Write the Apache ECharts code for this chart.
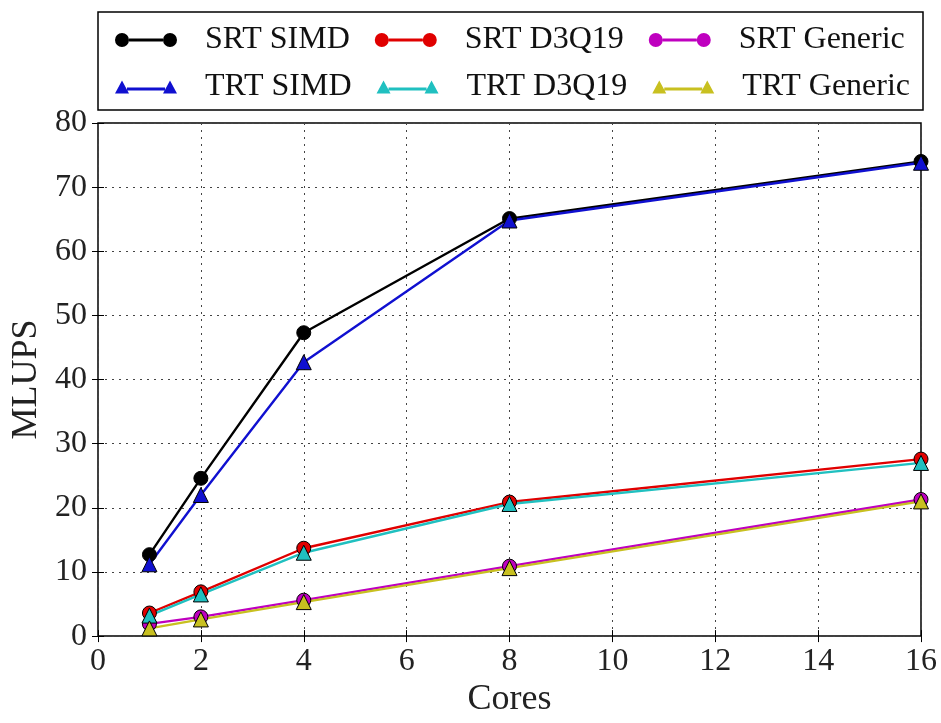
<!DOCTYPE html>
<html>
<head>
  <meta charset="utf-8">
  <title>MLUPS vs Cores</title>
  <script src="https://cdn.jsdelivr.net/npm/echarts@6/dist/echarts.min.js"></script>
  <style>
    html, body { margin: 0; padding: 0; background: #fff; }
    #chart { width: 941px; height: 723px; }
  </style>
</head>
<body>
  <div id="chart"></div>
  <script>
    // values
    var cores = [1, 2, 4, 8, 16];
    var srtSimd    = [12.7, 24.6, 47.3, 65.1, 74.0];
    var trtSimd    = [11.2, 22.0, 42.7, 64.8, 73.8];
    var srtD3q19   = [3.6, 6.9, 13.7, 20.9, 27.6];
    var trtD3q19   = [3.2, 6.5, 13.0, 20.6, 27.0];
    var srtGeneric = [1.9, 3.0, 5.6, 10.9, 21.3];
    var trtGeneric = [1.2, 2.6, 5.3, 10.6, 21.0];

    var serif = "'Liberation Serif', 'Times New Roman', serif";

    // legend icons: line with a marker on each end
    var circleIcon = 'path://M0,7A7,7 0 1,1 14,7A7,7 0 1,1 0,7Z M14,5.5L48,5.5L48,8.5L14,8.5Z M48,7A7,7 0 1,1 62,7A7,7 0 1,1 48,7Z';
    var triIcon = 'path://M0,14L7,1L14,14Z M12,8L50,8L50,11L12,11Z M48,14L55,1L62,14Z';

    function pairs(ys) {
      var out = [];
      for (var i = 0; i < cores.length; i++) out.push([cores[i], ys[i]]);
      return out;
    }

    function line(name, ys, color, symbol) {
      return {
        name: name,
        type: 'line',
        data: pairs(ys),
        symbol: symbol,
        symbolSize: symbol === 'circle' ? 14 : 15,
        lineStyle: { color: color, width: 2.4 },
        itemStyle: { color: color, borderColor: '#000', borderWidth: 1 },
        z: 3
      };
    }

    function axisCommon(extra) {
      var a = {
        type: 'value',
        axisLine: { show: false },
        axisTick: { show: true, inside: true, length: 6, lineStyle: { color: '#000', width: 1 } },
        axisLabel: { color: '#222', fontSize: 32, fontFamily: serif },
        splitLine: { show: false }
      };
      for (var k in extra) a[k] = extra[k];
      return a;
    }

    function legendRow(top, names, icon) {
      return {
        left: 115, top: top,
        padding: 0,
        itemWidth: 62, itemHeight: 14, itemGap: 25,
        itemStyle: { borderWidth: 0 },
        textStyle: { fontSize: 32, lineHeight: 32, color: '#111', fontFamily: serif, padding: [0, 0, 0, 23] },
        data: names.map(function (n) { return { name: n, icon: icon }; })
      };
    }

    var chart = echarts.init(document.getElementById('chart'));
    chart.setOption({
      animation: false,
      backgroundColor: '#fff',
      grid: {
        left: 98, right: 20, top: 123, bottom: 76,
        show: true, borderColor: '#000', borderWidth: 1.5
      },
      graphic: [{
        type: 'rect',
        shape: { x: 98, y: 12, width: 825, height: 98 },
        style: { fill: 'none', stroke: '#000', lineWidth: 1.5 }
      }],
      legend: [
        legendRow(24, ['SRT SIMD', 'SRT D3Q19', 'SRT Generic'], circleIcon),
        legendRow(71, ['TRT SIMD', 'TRT D3Q19', 'TRT Generic'], triIcon)
      ],
      xAxis: [
        axisCommon({
          min: 0, max: 16, interval: 2, position: 'bottom',
          name: 'Cores', nameLocation: 'middle', nameGap: 45,
          nameTextStyle: { fontSize: 36, color: '#222', fontFamily: serif },
          axisLabel: { color: '#222', fontSize: 32, fontFamily: serif, margin: 9 },
          splitLine: { show: true, lineStyle: { color: '#444', type: [2, 5], width: 1 } }
        }),
        axisCommon({ min: 0, max: 16, interval: 2, position: 'top', axisLabel: { show: false } })
      ],
      yAxis: [
        axisCommon({
          min: 0, max: 80, interval: 10, position: 'left',
          name: 'MLUPS', nameLocation: 'middle', nameGap: 53,
          nameTextStyle: { fontSize: 36, color: '#222', fontFamily: serif },
          axisLabel: { color: '#222', fontSize: 32, fontFamily: serif, margin: 11 },
          splitLine: { show: true, lineStyle: { color: '#444', type: [2, 5], width: 1 } }
        }),
        axisCommon({ min: 0, max: 80, interval: 10, position: 'right', axisLabel: { show: false } })
      ],
      series: [
        line('SRT SIMD', srtSimd, '#000000', 'circle'),
        line('SRT D3Q19', srtD3q19, '#e00000', 'circle'),
        line('SRT Generic', srtGeneric, '#bf00bf', 'circle'),
        line('TRT SIMD', trtSimd, '#1010d0', 'triangle'),
        line('TRT D3Q19', trtD3q19, '#20c0c0', 'triangle'),
        line('TRT Generic', trtGeneric, '#c8c020', 'triangle')
      ]
    });
  </script>
</body>
</html>
